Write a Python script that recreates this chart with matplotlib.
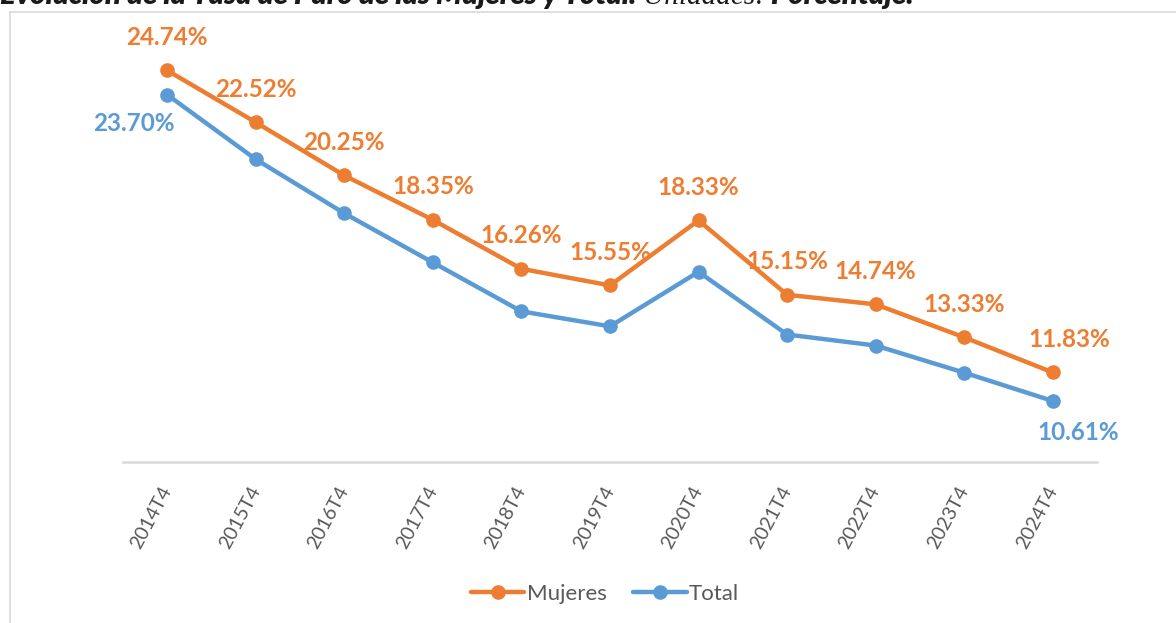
import matplotlib
matplotlib.use("Agg")
import matplotlib.pyplot as plt
from matplotlib.patches import Rectangle

categories = ["2014T4", "2015T4", "2016T4", "2017T4", "2018T4", "2019T4",
              "2020T4", "2021T4", "2022T4", "2023T4", "2024T4"]
mujeres = [24.74, 22.52, 20.25, 18.35, 16.26, 15.55, 18.33, 15.15, 14.74, 13.33, 11.83]
total = [23.70, 20.94, 18.63, 16.53, 14.44, 13.80, 16.13, 13.45, 12.98, 11.82, 10.61]
title_parts = ["Evolución de la Tasa de Paro de las Mujeres y Total.", " Unidades:", " Porcentaje."]

ORANGE = "#ED7D31"
BLUE = "#5B9BD5"
GRAY_TXT = "#595959"
FONT = "Lato"

W, H = 1176, 623
fig = plt.figure(figsize=(W / 100, H / 100), dpi=100)

# outer chart border
fig.patches.append(Rectangle((10 / W, -0.1), 1.2, (H - 12) / H + 0.1,
                             transform=fig.transFigure, fill=False,
                             edgecolor="#D9D9D9", linewidth=1.2))

# title (cut off at top, as in the reference)
renderer = fig.canvas.get_renderer()
styles = [dict(family=FONT, fontweight="heavy", fontstyle="italic"),
          dict(family="Liberation Serif", fontweight="normal", fontstyle="italic"),
          dict(family=FONT, fontweight="heavy", fontstyle="italic")]
xpos = 0.0
for part, st in zip(title_parts, styles):
    t = fig.text(xpos, 1 - 4 / H, part, fontsize=21, color="#1a1a1a",
                 va="baseline", ha="left", **st)
    bb = t.get_window_extent(renderer)
    xpos = bb.x1 / W

ax = fig.add_axes([123 / W, (H - 462) / H, (1097 - 123) / W, (462 - 41) / H])
x = list(range(len(categories)))
ax.plot(x, mujeres, color=ORANGE, lw=3.2, marker="o", ms=9.5, label="Mujeres",
        solid_capstyle="round", zorder=3)
ax.plot(x, total, color=BLUE, lw=3.2, marker="o", ms=9.5, label="Total",
        solid_capstyle="round", zorder=3)
ax.set_xlim(-0.5, len(categories) - 0.5)
ax.set_ylim(8, 26)

for s in ["top", "right", "left"]:
    ax.spines[s].set_visible(False)
ax.spines["bottom"].set_color("#D9D9D9")
ax.spines["bottom"].set_linewidth(1.8)
ax.set_yticks([])
ax.set_xticks(x)
ax.set_xticklabels(categories, rotation=62, ha="right", va="center",
                   rotation_mode="anchor", fontsize=14, family=FONT,
                   color=GRAY_TXT)
ax.tick_params(axis="x", length=0, pad=18)

lab_kw = dict(fontsize=17.5, fontweight="bold", family=FONT,
              ha="center", va="center", textcoords="offset pixels")
for i, v in enumerate(mujeres):
    dx = 17 if i == len(mujeres) - 1 else 0
    ax.annotate(f"{v:.2f}%", (i, v), xytext=(dx, 33), color=ORANGE, **lab_kw)
ax.annotate(f"{total[0]:.2f}%", (0, total[0]), xytext=(-33, -29), color=BLUE, **lab_kw)
ax.annotate(f"{total[-1]:.2f}%", (len(total) - 1, total[-1]), xytext=(25, -32),
            color=BLUE, **lab_kw)

leg = fig.legend(loc="center", bbox_to_anchor=(605 / W, 1 - 594 / H), ncol=2,
                 frameon=False, prop={"family": FONT, "size": 16},
                 handlelength=2.4, columnspacing=1.2, handletextpad=0.1)
for t in leg.get_texts():
    t.set_color(GRAY_TXT)

fig.savefig("out.png", dpi=100)
